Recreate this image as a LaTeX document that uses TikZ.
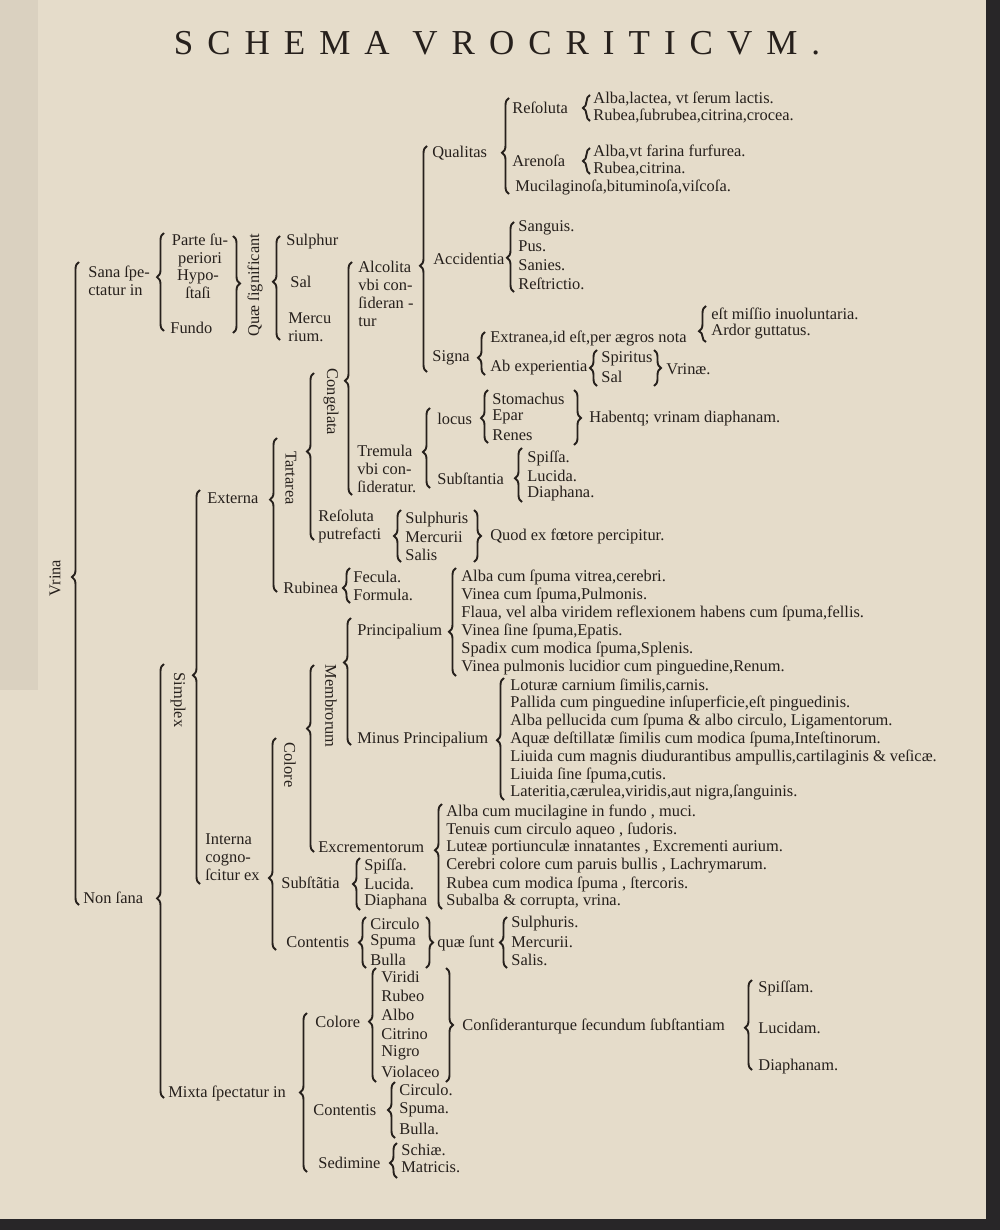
\documentclass[tikz,border=0pt]{standalone}
\usepackage{fontspec}
\setmainfont{Liberation Serif}
\usetikzlibrary{decorations.pathreplacing}
\definecolor{paper}{RGB}{229,220,202}
\definecolor{ink}{RGB}{38,32,28}
\definecolor{edge}{RGB}{40,38,40}

\begin{document}
\begin{tikzpicture}[
  x=0.5pt, y=-0.5pt,
  font=\fontsize{8.2}{9}\selectfont,
  lbl/.style={anchor=west, inner sep=0pt, text=ink},
  blk/.style={lbl, align=left},
  vup/.style={inner sep=0pt, text=ink, rotate=90},
  vdn/.style={inner sep=0pt, text=ink, rotate=-90},
  lbr/.style={decorate, decoration={brace, amplitude=3.5pt, aspect=#1}, line width=0.95pt, draw=ink},
  lbr/.default=0.5,
  rbr/.style={lbr=#1},
  rbr/.default=0.5
]
  % page
  \useasboundingbox (0,0) rectangle (1000,1230);
  \fill[paper] (0,0) rectangle (1000,1230);
  \fill[paper!95!black] (0,0) rectangle (38,690);
  \fill[edge] (986,0) rectangle (1000,1230);
  \fill[edge] (0,1219) rectangle (1000,1230);

  \node[text=ink] (title) at (497,43) {\fontsize{17.5}{17.5}\selectfont\addfontfeatures{LetterSpace=40}SCHEMA VROCRITICVM.};

  % Vrina
  \node[vup] (vrina) at (55,578) {Vrina};
  \draw[lbr=0.51] (79,905) -- (79,262);
  \node[blk] (sana) at (88,281) {Sana ſpe-\\ctatur in};
  \node[lbl] (nonsana) at (83,898) {Non ſana};

  % Sana
  \draw[lbr=0.55] (164,331) -- (164,233);
  \node[lbl, align=center, anchor=center] (parte) at (200,250) {Parte ſu-\\periori};
  \node[lbl, align=center, anchor=center] (hypo) at (198,284) {Hypo-\\ſtaſi};
  \node[lbl] (fundo) at (170,328) {Fundo};
  \draw[rbr=0.49] (233,236) -- (233,333);
  \node[vup] (quae) at (255,285) {Quæ ſignificant};
  \draw[lbr=0.56] (280,340) -- (280,236);
  \node[lbl] (sulphur) at (286,242) {Sulphur};
  \node[lbl] (sal) at (290,282) {Sal};
  \node[blk] (mercu) at (288,327) {Mercu\\rium.};

  % Non sana
  \draw[lbr=0.46] (164,1098) -- (164,664);
  \node[vdn] (simplex) at (178,700) {Simplex};
  \node[lbl] (mixta) at (168,1093) {Mixta ſpectatur in};
  \draw[lbr=0.53] (200,884) -- (200,490);
  \node[lbl] (externa) at (207,498) {Externa};
  \node[blk] (interna) at (205,857) {Interna\\cogno-\\ſcitur ex};

  % Externa
  \draw[lbr=0.6] (277,592) -- (277,438);
  \node[vdn] (tartarea) at (291,478) {Tartarea};
  \node[lbl] (rubinea) at (283,588) {Rubinea};
  \draw[lbr=0.43] (350,603) -- (350,568);
  \node[lbl] (fecula) at (353,577) {Fecula.};
  \node[lbl] (formula) at (353,595) {Formula.};
  \draw[lbr=0.53] (314,540) -- (314,373);
  \node[vdn] (congelata) at (331,402) {Congelata};
  \node[blk] (resputr) at (318,526) {Reſoluta\\putrefacti};
  \draw[lbr] (401,562) -- (401,510);
  \node[lbl] (sulphuris) at (405,520) {Sulphuris};
  \node[lbl] (mercurii) at (405,537) {Mercurii};
  \node[lbl] (salis) at (405,555) {Salis};
  \draw[rbr] (474,510) -- (474,562);
  \node[lbl] (quod) at (490,536) {Quod ex fœtore percipitur.};

  % Congelata
  \draw[lbr=0.49] (352,495) -- (352,262);
  \node[blk] (alcolita) at (358,294) {Alcolita\\vbi con-\\ſideran -\\tur};
  \node[blk] (tremula) at (357,469) {Tremula\\vbi con-\\ſideratur.};

  % Alcolita
  \draw[lbr=0.47] (427,372) -- (427,146);
  \node[lbl] (qualitas) at (432,153) {Qualitas};
  \draw[lbr=0.43] (509,194) -- (509,98);
  \node[lbl] (resoluta) at (512,108) {Reſoluta};
  \draw[lbr] (590,121) -- (590,95);
  \node[lbl] (alba1) at (593,99) {Alba,lactea, vt ſerum lactis.};
  \node[lbl] (rubea1) at (593,116) {Rubea,ſubrubea,citrina,crocea.};
  \node[lbl] (arenosa) at (512,161) {Arenoſa};
  \draw[lbr] (590,174) -- (590,148);
  \node[lbl] (alba2) at (593,152) {Alba,vt farina furfurea.};
  \node[lbl] (rubea2) at (593,169) {Rubea,citrina.};
  \node[lbl] (mucil) at (515,187) {Mucilaginoſa,bituminoſa,viſcoſa.};

  \node[lbl] (accid) at (433,259) {Accidentia};
  \draw[lbr=0.49] (514,292) -- (514,222);
  \node[lbl] (sanguis) at (518,228) {Sanguis.};
  \node[lbl] (pus) at (518,246) {Pus.};
  \node[lbl] (sanies) at (518,265) {Sanies.};
  \node[lbl] (restr) at (518,284) {Reſtrictio.};

  \node[lbl] (signa) at (432,358) {Signa};
  \draw[lbr=0.4] (485,375) -- (485,332);
  \node[lbl] (extranea) at (490,338) {Extranea,id eſt,per ægros nota};
  \draw[lbr=0.3] (706,342) -- (706,306);
  \node[lbl] (missio) at (711,314) {eſt miſſio inuoluntaria.};
  \node[lbl] (ardor) at (711,332) {Ardor guttatus.};
  \node[lbl] (abexp) at (490,368) {Ab experientia};
  \draw[lbr] (597,386) -- (597,350);
  \node[lbl] (spiritus) at (601,359) {Spiritus};
  \node[lbl] (sal2) at (601,377) {Sal};
  \draw[rbr] (654,350) -- (654,386);
  \node[lbl] (vrinae) at (666,369) {Vrinæ.};

  % Tremula
  \draw[lbr=0.45] (430,488) -- (430,408);
  \node[lbl] (locus) at (437,419) {locus};
  \draw[lbr=0.47] (488,443) -- (488,390);
  \node[lbl] (stomachus) at (492,399) {Stomachus};
  \node[lbl] (epar) at (492,417) {Epar};
  \node[lbl] (renes) at (492,435) {Renes};
  \draw[rbr=0.51] (574,390) -- (574,445);
  \node[lbl] (habent) at (589,419) {Habentq; vrinam diaphanam.};
  \node[lbl] (subst1) at (437,479) {Subſtantia};
  \draw[lbr=0.44] (522,502) -- (522,448);
  \node[lbl] (spissa1) at (527,458) {Spiſſa.};
  \node[lbl] (lucida1) at (527,476) {Lucida.};
  \node[lbl] (diaph1) at (527,494) {Diaphana.};

  % Interna
  \draw[lbr=0.34] (276,950) -- (276,738);
  \node[vdn] (colore1) at (290,765) {Colore};
  \draw[lbr=0.66] (314,852) -- (314,665);
  \node[vdn] (membrorum) at (331,706) {Membrorum};
  \draw[lbr=0.65] (351,745) -- (351,618);
  \node[lbl] (princ) at (357,632) {Principalium};
  \draw[lbr=0.41] (456,676) -- (456,568);
  \foreach \t [count=\i from 0] in {{Alba cum ſpuma vitrea,cerebri.},
      {Vinea cum ſpuma,Pulmonis.},
      {Flaua, vel alba viridem reflexionem habens cum ſpuma,fellis.},
      {Vinea ſine ſpuma,Epatis.},
      {Spadix cum modica ſpuma,Splenis.},
      {Vinea pulmonis lucidior cum pinguedine,Renum.}}
    \node[lbl] (pr\i) at (461,577+18.2*\i) {\t};
  \node[lbl] (minus) at (357,740) {Minus Principalium};
  \draw[lbr=0.49] (504,800) -- (504,678);
  \foreach \t [count=\i from 0] in {{Loturæ carnium ſimilis,carnis.},
      {Pallida cum pinguedine inſuperficie,eſt pinguedinis.},
      {Alba pellucida cum ſpuma \& albo circulo, Ligamentorum.},
      {Aquæ deſtillatæ ſimilis cum modica ſpuma,Inteſtinorum.},
      {Liuida cum magnis diudurantibus ampullis,cartilaginis \& veſicæ.},
      {Liuida ſine ſpuma,cutis.},
      {Lateritia,cærulea,viridis,aut nigra,ſanguinis.}}
    \node[lbl] (mp\i) at (510,686+17.8*\i) {\t};
  \node[lbl] (excr) at (318,847) {Excrementorum};
  \draw[lbr=0.56] (442,909) -- (442,804);
  \foreach \t [count=\i from 0] in {{Alba cum mucilagine in fundo , muci.},
      {Tenuis cum circulo aqueo , ſudoris.},
      {Luteæ portiunculæ innatantes , Excrementi aurium.},
      {Cerebri colore cum paruis bullis , Lachrymarum.},
      {Rubea cum modica ſpuma , ſtercoris.},
      {Subalba \& corrupta, vrina.}}
    \node[lbl] (ex\i) at (446,812+18*\i) {\t};

  \node[lbl] (subst2) at (281,883) {Subſtãtia};
  \draw[lbr] (360,910) -- (360,858);
  \node[lbl] (spissa2) at (364,866) {Spiſſa.};
  \node[lbl] (lucida2) at (364,884) {Lucida.};
  \node[lbl] (diaph2) at (364,902) {Diaphana};
  \node[lbl] (cont1) at (286,942) {Contentis};
  \draw[lbr] (366,968) -- (366,917);
  \node[lbl] (circ1) at (370,924) {Circulo};
  \node[lbl] (spuma1) at (370,942) {Spuma};
  \node[lbl] (bulla1) at (370,960) {Bulla};
  \draw[rbr] (426,917) -- (426,968);
  \node[lbl] (quaesunt) at (437,943) {quæ ſunt};
  \draw[lbr] (507,968) -- (507,917);
  \node[lbl] (sulph2) at (511,924) {Sulphuris.};
  \node[lbl] (merc2) at (511,942) {Mercurii.};
  \node[lbl] (salis2) at (511,960) {Salis.};

  % Mixta
  \draw[lbr] (307,1172) -- (307,1013);
  \node[lbl] (colore2) at (315,1022) {Colore};
  \draw[lbr=0.53] (376,1082) -- (376,968);
  \foreach \t [count=\i from 0] in {Viridi, Rubeo, Albo, Citrino, Nigro, Violaceo}
    \node[lbl] (col\i) at (381,977+19*\i) {\t};
  \draw[rbr] (446,968) -- (446,1082);
  \node[lbl] (consid) at (462,1026) {Conſideranturque ſecundum ſubſtantiam};
  \draw[lbr=0.47] (752,1070) -- (752,980);
  \node[lbl] (spissam) at (758,988) {Spiſſam.};
  \node[lbl] (lucidam) at (758,1028) {Lucidam.};
  \node[lbl] (diaphanam) at (758,1067) {Diaphanam.};
  \node[lbl] (cont2) at (313,1110) {Contentis};
  \draw[lbr] (395,1138) -- (395,1082);
  \node[lbl] (circ2) at (399,1090) {Circulo.};
  \node[lbl] (spuma2) at (399,1110) {Spuma.};
  \node[lbl] (bulla2) at (399,1129) {Bulla.};
  \node[lbl] (sedimine) at (318,1163) {Sedimine};
  \draw[lbr=0.43] (397,1178) -- (397,1143);
  \node[lbl] (schiae) at (401,1150) {Schiæ.};
  \node[lbl] (matricis) at (401,1167) {Matricis.};
\end{tikzpicture}
\end{document}
